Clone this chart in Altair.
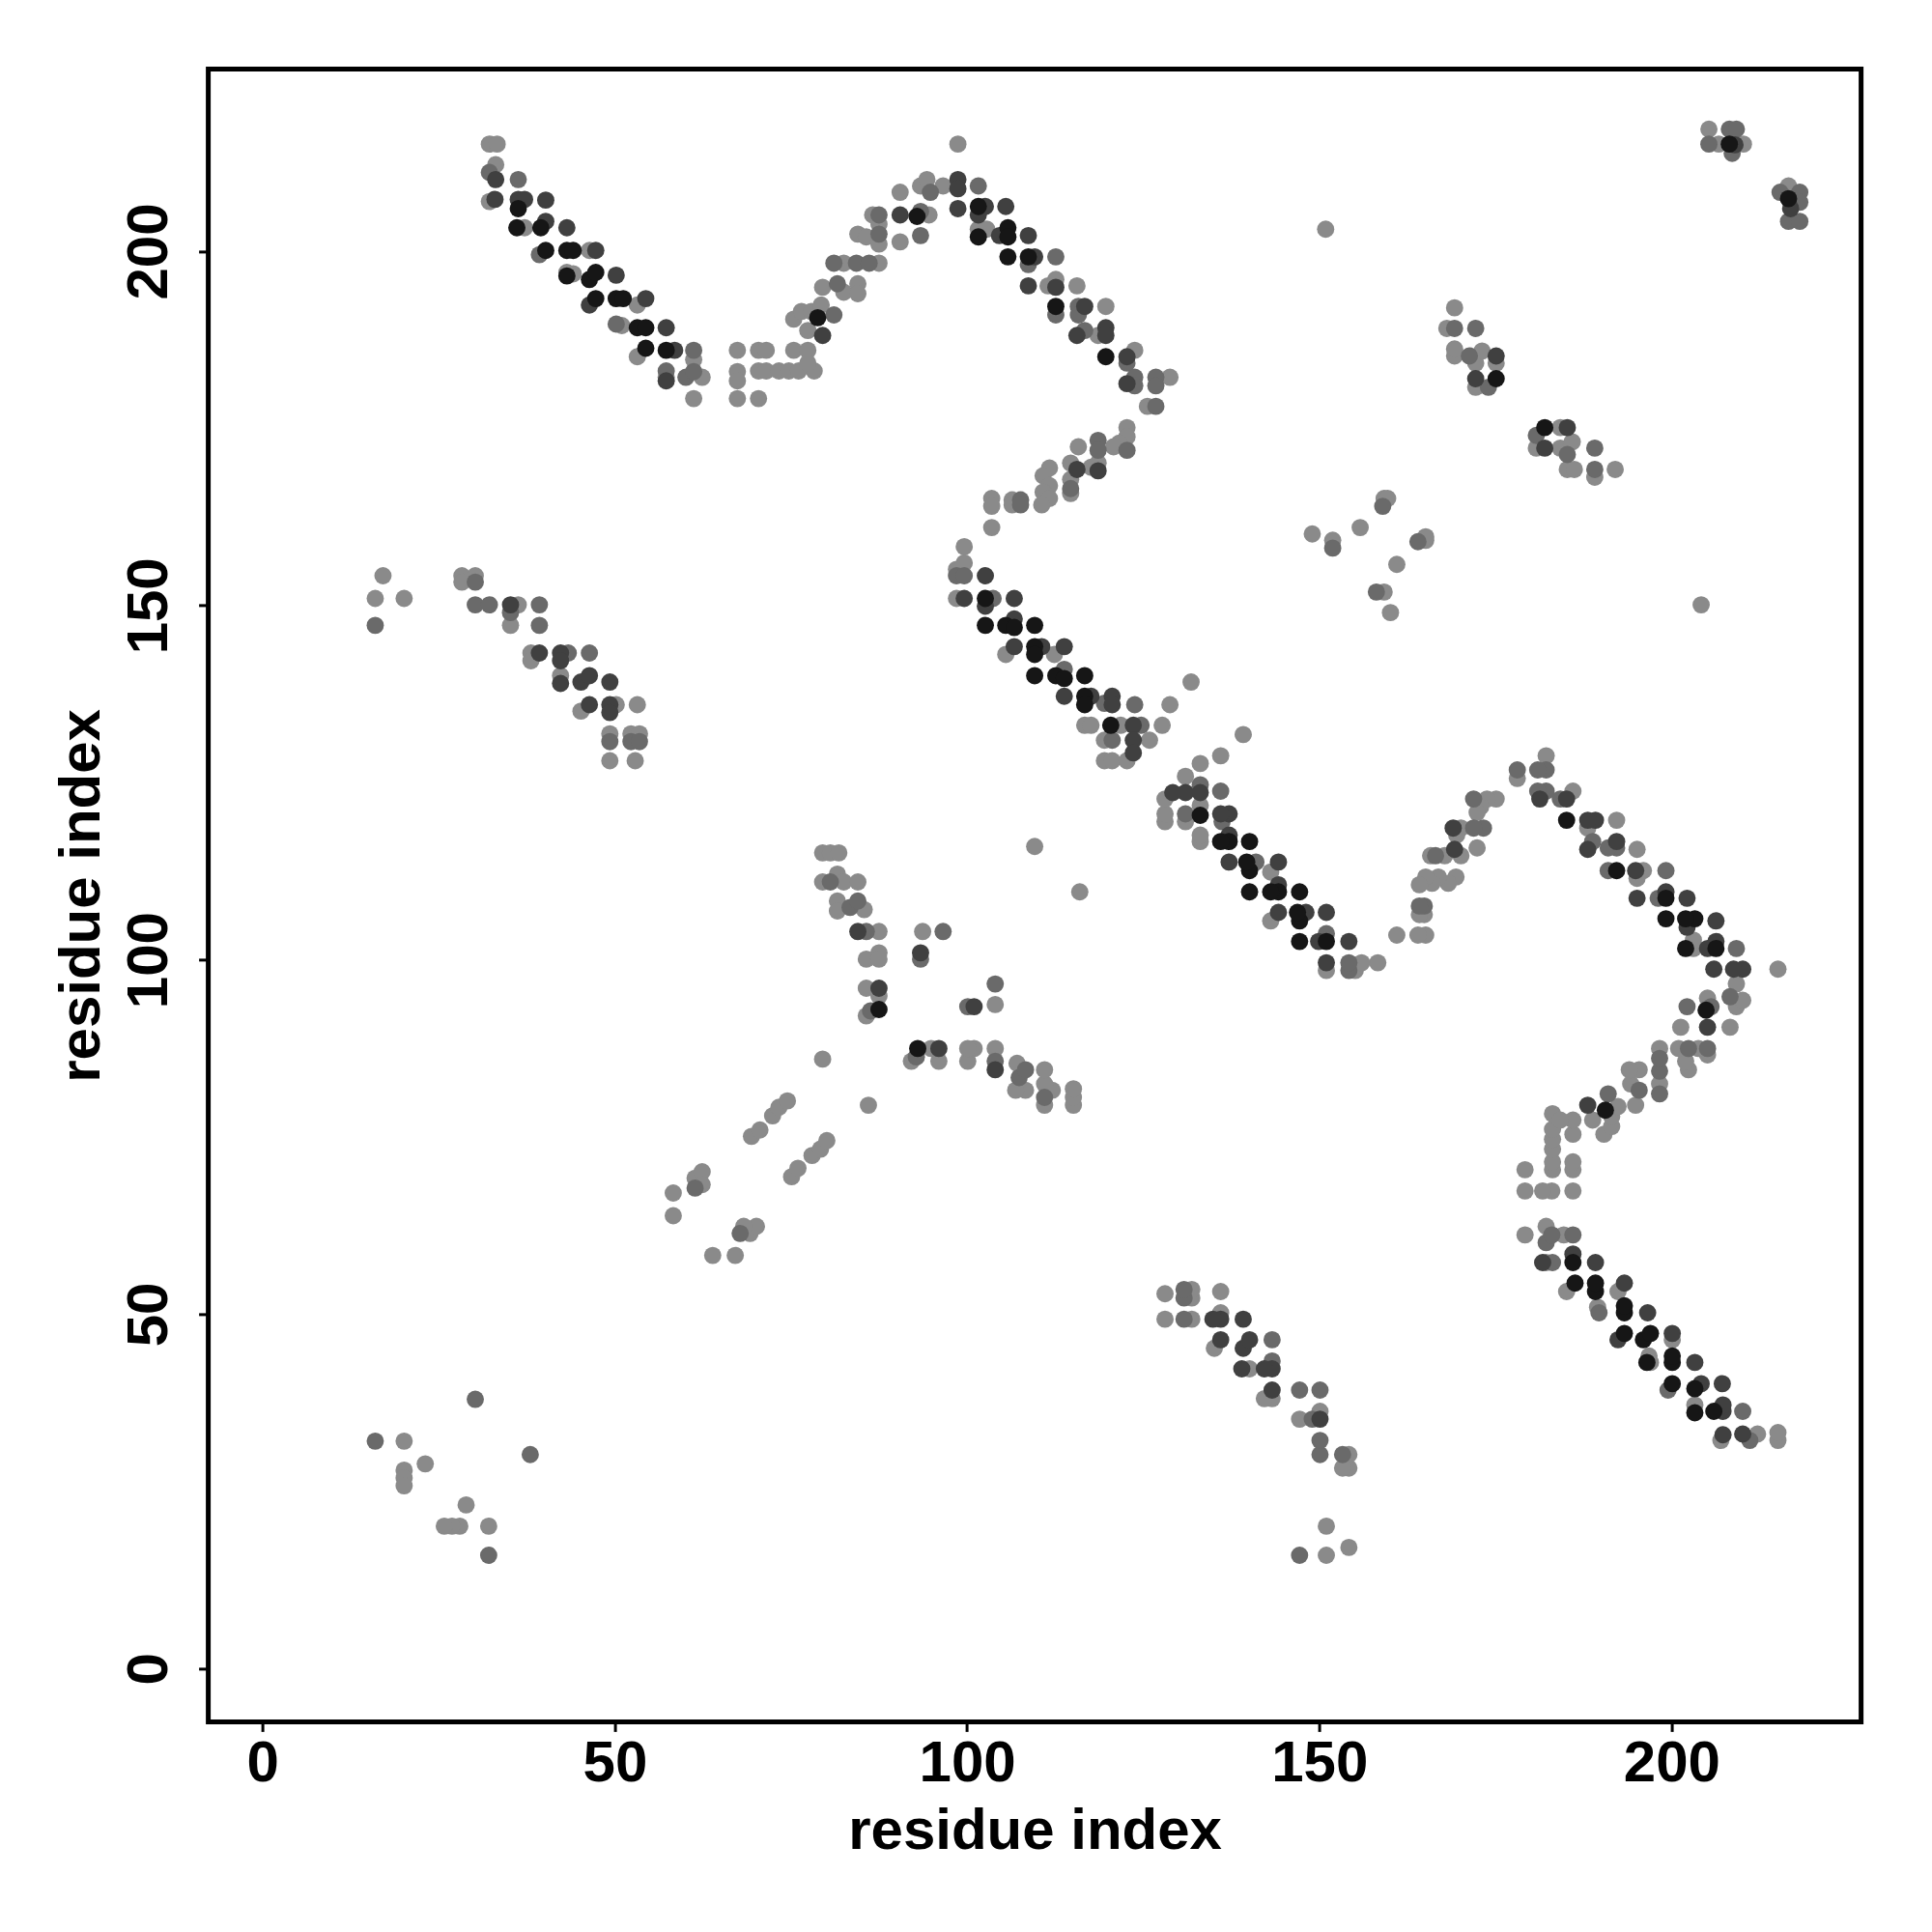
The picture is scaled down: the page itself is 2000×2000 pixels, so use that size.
import altair as alt
import pandas as pd

# Contact map: symmetric contacts (i, j, shade) listed once (i < j) and drawn at (i, j) and (j, i).
SHADE_COLORS = {"L": "#8a8a8a", "M": "#6a6a6a", "D": "#404040", "B": "#161616"}
SHADE_RANK = {"L": 0, "M": 1, "D": 2, "B": 3}

strand_a = [
    (32.2, 215.1, "L"), (33.3, 215.1, "L"), (33.1, 212.2, "L"), (32.2, 211.1, "M"), (33.1, 210.1, "D"),
    (36.3, 210.1, "M"), (32.2, 207.0, "L"), (33.0, 207.3, "D"), (36.3, 207.3, "D"), (37.2, 207.3, "D"),
    (36.3, 206.0, "B"), (40.2, 207.2, "D"), (36.1, 203.3, "B"), (37.2, 203.3, "L"), (39.5, 203.3, "B"),
    (40.2, 204.2, "D"), (43.2, 203.3, "D"), (39.3, 199.5, "M"), (40.2, 200.1, "B"), (43.2, 200.1, "B"),
    (44.1, 200.1, "B"), (43.2, 197.0, "L"), (44.1, 196.8, "L"), (43.2, 196.5, "B"), (46.4, 200.1, "L"),
    (47.3, 200.1, "D"), (46.4, 196.0, "B"), (47.3, 197.0, "B"), (50.2, 196.6, "D"), (46.4, 192.4, "D"),
    (47.3, 193.3, "B"), (50.2, 193.3, "B"), (51.2, 193.3, "B"), (50.2, 189.7, "M"), (51.0, 189.5, "L"),
    (53.2, 192.4, "L"), (54.4, 193.3, "D"), (53.2, 189.2, "B"), (54.4, 189.2, "B"), (57.3, 189.2, "D"),
    (54.4, 186.3, "B"), (53.2, 185.1, "L"), (57.3, 186.0, "B"), (58.5, 186.0, "D"), (57.3, 183.1, "M"),
    (57.3, 181.7, "D"), (57.3, 182.2, "L"), (61.2, 186.0, "M"), (61.2, 184.7, "L"), (60.1, 182.2, "M"),
    (62.4, 182.2, "L"), (61.2, 183.0, "M"), (61.2, 179.2, "L"), (67.4, 186.0, "L"), (67.4, 183.0, "L"),
    (67.4, 181.7, "L"), (67.4, 179.2, "L"),
]

wave_b = [
    (70.4, 179.2, "L"), (70.4, 186.0, "L"), (71.5, 186.0, "L"), (70.4, 183.1, "L"), (71.5, 183.1, "L"),
    (73.3, 183.1, "L"), (74.7, 183.1, "L"), (76.1, 183.1, "L"), (78.3, 183.1, "L"), (75.4, 186.0, "L"),
    (77.4, 186.0, "L"), (77.4, 188.8, "L"), (77.4, 184.2, "L"), (75.4, 190.4, "L"), (76.5, 191.5, "L"),
    (77.9, 191.5, "L"), (78.8, 190.6, "B"), (81.1, 191.0, "M"), (79.5, 188.1, "D"), (79.3, 192.4, "L"),
    (79.5, 194.9, "L"), (81.6, 195.4, "M"), (82.5, 194.2, "L"), (84.5, 195.4, "L"), (84.5, 194.0, "L"),
    (81.1, 198.3, "M"), (82.5, 198.3, "L"), (84.3, 198.3, "M"), (86.1, 198.3, "M"), (87.5, 198.3, "L"),
    (84.5, 202.4, "L"), (85.7, 202.0, "L"), (87.5, 202.4, "M"), (87.5, 201.0, "L"), (86.6, 205.1, "L"),
    (87.5, 205.1, "M"), (87.5, 203.8, "L"), (90.5, 208.3, "L"), (90.5, 205.1, "D"), (90.5, 201.3, "L"),
    (93.4, 209.2, "L"), (94.3, 210.1, "L"), (94.8, 208.3, "M"), (93.4, 205.6, "M"), (92.9, 204.9, "B"),
    (94.6, 205.1, "L"), (93.4, 202.2, "M"), (96.6, 209.2, "L"), (98.7, 215.1, "L"), (98.7, 210.1, "D"),
    (98.7, 208.8, "D"), (101.6, 209.2, "M"), (98.7, 206.0, "D"), (101.6, 206.3, "B"), (102.6, 206.3, "D"),
    (101.6, 205.1, "D"), (105.5, 206.3, "D"), (101.6, 203.1, "L"), (102.8, 203.1, "L"), (101.6, 202.0, "B"),
    (104.6, 202.2, "D"), (105.8, 203.3, "B"), (105.8, 202.0, "B"), (108.7, 202.2, "D"), (105.8, 199.2, "B"),
    (108.7, 199.2, "B"), (109.6, 199.2, "D"), (108.7, 198.1, "M"), (112.6, 199.2, "M"), (108.7, 195.1, "D"),
    (111.5, 195.1, "L"), (112.6, 196.0, "L"), (112.6, 194.9, "D"), (115.6, 195.1, "L"), (112.6, 192.2, "B"),
    (112.6, 191.0, "M"), (115.8, 192.2, "M"), (116.7, 192.2, "D"), (115.8, 191.0, "M"), (119.7, 192.2, "L"),
    (115.6, 188.1, "D"), (116.7, 188.8, "M"), (118.6, 188.1, "L"), (119.7, 189.2, "D"), (119.7, 188.1, "D"),
    (119.7, 185.1, "B"), (122.7, 185.1, "D"), (123.8, 186.0, "L"), (122.7, 184.2, "M"), (122.7, 181.3, "D"),
    (123.8, 182.2, "M"), (123.8, 181.0, "M"), (126.8, 182.2, "M"), (126.8, 181.0, "M"), (128.8, 182.2, "L"),
    (125.6, 178.1, "L"), (126.8, 178.1, "M"),
]

wave_c = [
    (122.7, 175.1, "L"), (122.7, 173.8, "L"), (122.7, 171.9, "M"), (121.6, 172.9, "L"), (120.8, 172.4, "L"),
    (118.6, 173.3, "M"), (118.6, 171.9, "M"), (118.6, 170.1, "L"), (118.6, 169.0, "D"), (117.6, 169.5, "L"),
    (115.8, 172.4, "L"), (114.7, 170.1, "L"), (115.6, 169.2, "D"), (114.7, 167.8, "L"), (114.7, 166.5, "M"),
    (114.7, 165.8, "L"), (111.7, 169.4, "L"), (110.8, 168.3, "L"), (111.7, 166.9, "L"), (110.8, 166.0, "L"),
    (111.7, 165.1, "L"), (110.6, 164.2, "L"), (106.4, 164.9, "L"), (107.6, 164.9, "M"), (106.4, 164.2, "L"),
    (107.6, 164.2, "M"), (103.5, 165.1, "L"), (103.5, 164.0, "L"), (103.5, 161.0, "L"), (99.6, 158.3, "L"),
]

line_d = [
    (98.5, 155.1, "L"), (99.6, 156.0, "L"), (98.5, 154.2, "M"), (99.6, 154.2, "M"), (102.6, 154.2, "D"),
    (98.5, 151.0, "L"), (99.6, 151.0, "D"), (102.6, 151.0, "B"), (102.6, 149.9, "D"), (103.7, 151.0, "M"),
    (106.7, 151.0, "D"), (102.6, 147.2, "B"), (105.5, 147.2, "B"), (106.7, 148.1, "D"), (106.7, 146.9, "B"),
    (109.6, 147.2, "B"), (105.5, 143.1, "L"), (106.7, 144.2, "D"), (109.6, 144.2, "B"), (109.6, 143.1, "B"),
    (110.6, 144.2, "D"), (113.8, 144.2, "D"), (112.4, 143.1, "L"), (109.6, 140.1, "B"), (112.6, 140.1, "B"),
    (113.8, 141.0, "M"), (113.8, 139.7, "B"), (116.7, 140.1, "B"), (113.8, 137.2, "D"), (116.7, 137.2, "B"),
    (117.6, 137.2, "D"), (116.7, 136.0, "B"), (120.6, 137.2, "D"), (120.6, 136.0, "D"), (119.5, 136.2, "M"),
    (123.8, 136.0, "M"), (128.8, 136.0, "L"), (131.8, 139.2, "L"), (116.7, 133.1, "L"), (117.6, 133.1, "L"),
    (120.4, 133.1, "B"), (121.8, 133.1, "L"), (123.6, 133.1, "D"), (124.7, 133.1, "M"), (127.7, 133.1, "L"),
    (119.5, 131.0, "L"), (120.6, 131.0, "M"), (123.6, 131.0, "D"), (125.9, 131.0, "L"), (123.6, 129.2, "D"),
    (119.5, 128.1, "L"), (120.6, 128.1, "L"), (122.7, 128.1, "L"),
]

center_e = [
    (79.5, 115.1, "L"), (80.6, 115.1, "L"), (81.8, 115.1, "L"), (79.5, 111.0, "L"), (80.6, 111.0, "M"),
    (81.6, 112.1, "L"), (82.5, 111.0, "L"), (84.5, 111.0, "L"), (81.6, 108.3, "L"), (81.6, 106.9, "L"),
    (83.4, 107.4, "M"), (84.5, 108.3, "M"), (85.4, 107.1, "L"), (84.5, 104.0, "D"), (85.7, 104.0, "M"),
    (87.5, 104.0, "L"), (93.7, 104.0, "L"), (96.6, 104.0, "M"), (85.7, 100.1, "L"), (87.5, 101.0, "L"),
    (87.5, 100.1, "L"), (93.4, 101.0, "D"), (93.4, 100.1, "M"), (85.7, 96.0, "L"), (87.5, 96.0, "D"),
    (87.5, 94.9, "L"), (85.7, 92.1, "L"), (86.3, 92.8, "M"), (87.5, 93.0, "B"), (79.5, 86.0, "L"),
    (109.6, 116.0, "L"), (69.4, 75.1, "L"), (70.6, 76.0, "L"), (72.4, 78.0, "L"), (73.3, 79.2, "L"),
    (74.5, 80.1, "L"), (58.3, 67.1, "L"), (58.3, 63.9, "L"), (61.4, 69.2, "L"), (61.4, 67.8, "M"),
    (62.4, 70.1, "L"), (62.4, 68.3, "L"),
]

cluster_f = [
    (17.1, 154.2, "L"), (16.0, 151.0, "L"), (20.1, 151.0, "L"), (16.0, 147.2, "M"), (28.3, 154.2, "L"),
    (30.2, 154.2, "L"), (28.3, 153.3, "L"), (30.2, 153.3, "M"), (30.2, 150.1, "M"), (32.2, 150.1, "M"),
    (35.2, 150.1, "D"), (36.3, 150.1, "L"), (35.2, 149.0, "M"), (39.3, 150.1, "M"), (35.2, 147.2, "L"),
    (39.3, 147.2, "M"), (38.1, 143.3, "L"), (39.3, 143.3, "D"), (38.1, 142.2, "L"), (42.3, 143.3, "D"),
    (43.4, 143.3, "M"), (42.3, 142.2, "D"), (46.4, 143.3, "M"), (42.3, 140.1, "L"), (42.3, 139.0, "D"),
    (45.2, 139.2, "D"), (46.4, 140.1, "D"), (49.3, 139.2, "D"), (45.2, 135.1, "L"), (46.4, 136.0, "D"),
    (49.3, 136.0, "D"), (50.2, 136.0, "L"), (49.3, 134.9, "D"), (53.2, 136.0, "L"), (49.3, 131.9, "L"),
    (49.3, 130.8, "M"), (52.3, 131.9, "L"), (53.5, 131.9, "L"), (52.3, 130.8, "M"), (53.5, 130.8, "M"),
    (49.3, 128.1, "L"), (52.9, 128.1, "L"),
]

cluster_g = [
    (16.0, 32.1, "M"), (20.1, 32.1, "L"), (23.1, 28.9, "L"), (20.1, 28.0, "L"), (20.1, 26.9, "L"),
    (20.1, 25.8, "L"), (30.2, 38.0, "M"),
]

cluster_h = [
    (175.1, 182.0, "B"), (174.0, 180.8, "M"), (172.2, 180.8, "L"), (172.2, 182.0, "D"), (175.1, 184.2, "L"),
    (175.1, 185.2, "D"), (172.2, 184.2, "L"), (173.1, 185.9, "L"), (171.3, 185.2, "M"), (172.2, 189.1, "M"),
    (169.2, 185.2, "L"), (169.2, 186.2, "L"), (169.2, 189.1, "M"), (168.1, 189.1, "L"), (169.2, 192.0, "L"),
]

cluster_i = [
    (149.0, 160.1, "L"), (151.9, 159.2, "L"), (151.9, 158.1, "M"), (155.8, 161.0, "L"), (159.2, 165.1, "L"),
    (159.7, 165.1, "L"), (159.0, 164.0, "M"),
]

# contacts drawn exactly where read (not mirrored)
single_points = [
    (150.9, 203.1, "L"), (204.2, 150.1, "L"),
    (205.3, 217.2, "L"), (205.3, 215.1, "M"), (206.7, 215.1, "L"), (208.2, 217.2, "M"), (209.2, 217.2, "M"),
    (208.2, 215.1, "B"), (209.0, 215.0, "D"), (210.2, 215.1, "L"), (208.6, 213.8, "M"),
    (215.4, 208.3, "M"), (216.6, 209.2, "L"), (216.6, 207.4, "B"), (218.2, 208.3, "M"), (218.2, 206.9, "M"),
    (216.6, 204.2, "M"), (218.2, 204.2, "M"), (216.9, 206.0, "D"),
]

x_ticks = [0, 50, 100, 150, 200]
y_ticks = [0, 50, 100, 150, 200]

rows = []
for group in [strand_a, wave_b, wave_c, line_d, center_e, cluster_f, cluster_g, cluster_h, cluster_i]:
    for i, j, s in group:
        rows.append({"x": i, "y": j, "col": SHADE_COLORS[s], "rank": SHADE_RANK[s]})
        rows.append({"x": j, "y": i, "col": SHADE_COLORS[s], "rank": SHADE_RANK[s]})
for i, j, s in single_points:
    rows.append({"x": i, "y": j, "col": SHADE_COLORS[s], "rank": SHADE_RANK[s]})
df = pd.DataFrame(rows).sort_values("rank", kind="stable").reset_index(drop=True)

FONT = "Liberation Sans"

x_axis = alt.Axis(
    values=x_ticks, title="residue index", grid=False, domain=False,
    ticks=True, tickSize=10, tickWidth=3, tickColor="black",
    labelFont=FONT, labelFontSize=60, labelFontWeight="bold", labelColor="black",
    labelPadding=51, labelBaseline="alphabetic", labelAlign="center", labelFlush=False,
    titleFont=FONT, titleFontSize=60, titleFontWeight="bold", titleColor="black",
    titleX=855.5, titleY=131, titleBaseline="alphabetic", titleAlign="center",
)
y_axis = alt.Axis(
    values=y_ticks, title="residue index", grid=False, domain=False,
    ticks=True, tickSize=10, tickWidth=3, tickColor="black",
    labelFont=FONT, labelFontSize=60, labelFontWeight="bold", labelColor="black",
    labelAngle=270, labelAlign="center", labelBaseline="alphabetic", labelPadding=33.6, labelFlush=False,
    titleFont=FONT, titleFontSize=60, titleFontWeight="bold", titleColor="black",
    titleAngle=270, titleX=-113.6, titleY=855.5, titleBaseline="alphabetic", titleAlign="center",
)

chart = alt.Chart(df).mark_circle(size=320, opacity=1).encode(
    x=alt.X("x:Q", scale=alt.Scale(domain=[-7.7, 226.9], nice=False, zero=False), axis=x_axis),
    y=alt.Y("y:Q", scale=alt.Scale(domain=[-7.5, 225.7], nice=False, zero=False), axis=y_axis),
    color=alt.Color("col:N", scale=None),
).properties(
    width=1711, height=1711,
    autosize=alt.AutoSizeParams(type="none"),
    padding={"left": 207.6, "top": 63.4, "right": 65, "bottom": 210},
    background="white",
).configure_view(stroke="black", strokeWidth=5)

chart.save("out.html", embed_options={"renderer": "svg", "actions": False})
